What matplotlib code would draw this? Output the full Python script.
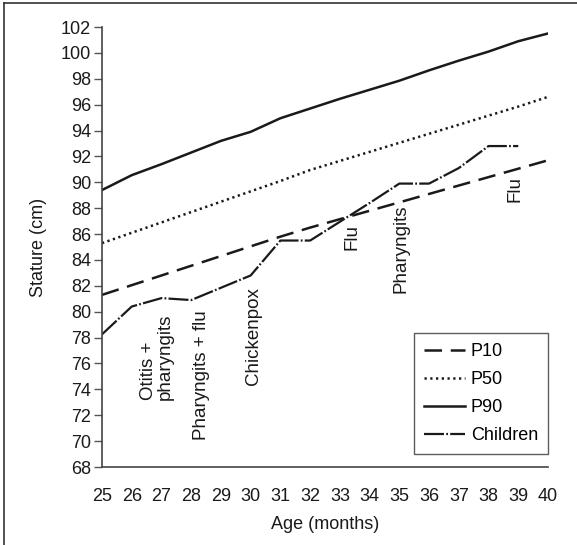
import matplotlib
matplotlib.use("Agg")
import matplotlib.pyplot as plt
from matplotlib.lines import Line2D

plt.rcParams['font.family'] = ['Liberation Sans', 'DejaVu Sans']

months = list(range(25, 41))
p10 = [81.3, 82.05, 82.8, 83.55, 84.3, 85.05, 85.8, 86.5, 87.15, 87.8, 88.45, 89.1, 89.75, 90.4, 91.05, 91.7]
p50 = [85.3, 86.1, 86.9, 87.7, 88.5, 89.3, 90.1, 90.95, 91.65, 92.35, 93.05, 93.75, 94.45, 95.15, 95.85, 96.6]
p90 = [89.4, 90.55, 91.4, 92.3, 93.2, 93.9, 94.95, 95.7, 96.45, 97.15, 97.85, 98.65, 99.4, 100.1, 100.9, 101.5]
child_months = list(range(25, 40))
children = [78.25, 80.4, 81.05, 80.9, 81.85, 82.8, 85.5, 85.5, 86.95, 88.4, 89.9, 89.9, 91.1, 92.8, 92.8]

events = ["Otitis +\npharyngits", "Pharyngits + flu", "Chickenpox", "Flu", "Pharyngits", "Flu"]
event_x = [26.85, 28.35, 30.1, 33.4, 35.05, 38.9]
event_y = [73.2, 70.1, 74.3, 84.8, 81.45, 88.5]

yticks = list(range(68, 103, 2))

W, H = 577, 545
fig = plt.figure(figsize=(W / 100, H / 100), dpi=100)
ax = fig.add_axes([102 / W, 1 - 467 / H, (548 - 102) / W, (467 - 27) / H])

c = '#1a1a1a'
fs = 13
ax.plot(months, p10, color=c, lw=1.8, dashes=(7, 3.5), label='P10')
ax.plot(months, p50, color=c, lw=1.8, dashes=(0.9, 1.4), label='P50')
ax.plot(months, p90, color=c, lw=1.8, label='P90')
ax.plot(child_months, children, color=c, lw=1.6, dashes=(9, 1.0, 0.8, 1.0), label='Children')

for t, x, y in zip(events, event_x, event_y):
    ax.text(x, y, t, rotation=90, ha='center', va='bottom', ma='left',
            fontsize=13.5, color=c, linespacing=1.0)

ax.set_xlim(25, 40)
ax.set_ylim(68, 102)
ax.set_yticks(yticks)
ax.set_xticks(months)
ax.tick_params(axis='y', length=6, width=1, color='#555555', labelsize=fs, pad=2, labelcolor=c)
ax.tick_params(axis='x', length=0, labelsize=fs, pad=15, labelcolor=c)
for s in ['top', 'right']:
    ax.spines[s].set_visible(False)
for s in ['left', 'bottom']:
    ax.spines[s].set_color('#444444')
    ax.spines[s].set_linewidth(1.2)

ax.set_xlabel('Age (months)', fontsize=fs, color=c, labelpad=8)
ax.set_ylabel('Stature (cm)', fontsize=fs, color=c, labelpad=10)

leg = ax.legend(loc='lower right', bbox_to_anchor=(1.0, 0.03), frameon=True, fancybox=False,
                fontsize=fs, handlelength=2.3, handletextpad=0.3, borderpad=0.55,
                labelspacing=0.6, borderaxespad=0)
leg.get_frame().set_edgecolor('#333333')
leg.get_frame().set_linewidth(1.0)

fig.add_artist(Line2D([4 / W, 4 / W], [0, 1 - 3 / H], color='#333333', lw=1.2, transform=fig.transFigure))
fig.add_artist(Line2D([4 / W, 1], [1 - 3 / H, 1 - 3 / H], color='#333333', lw=1.2, transform=fig.transFigure))

fig.savefig('out.png', dpi=100)
